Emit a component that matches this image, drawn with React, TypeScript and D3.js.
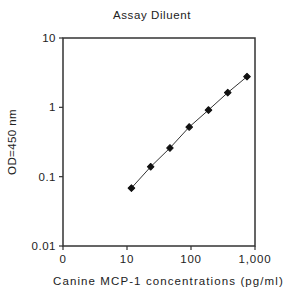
import React from "react";
import * as d3 from "d3";

const concentrations = [11.72, 23.44, 46.88, 93.75, 187.5, 375, 750];
const odValues = [0.0685, 0.139, 0.259, 0.52, 0.914, 1.63, 2.77];
const xTicks = [1, 10, 100, 1000];
const xTickLabels = ["0", "10", "100", "1,000"];
const yTicks = [0.01, 0.1, 1, 10];
const yTickLabels = ["0.01", "0.1", "1", "10"];

export default function App() {
  const W = 286, H = 293;
  const left = 63, right = 255, top = 38, bottom = 246;
  const x = d3.scaleLog().domain([1, 1000]).range([left, right]);
  const y = d3.scaleLog().domain([0.01, 10]).range([bottom, top]);
  const line = d3.line<number>().x((_, i) => x(concentrations[i])).y((d) => y(d));
  const sym = d3.symbol().type(d3.symbolSquare).size(22)();
  const font = "Liberation Sans, Arial, sans-serif";
  return (
    <svg width={W} height={H} style={{ position: "absolute", left: 0, top: 0 }} fontFamily={font}>
      <rect width={W} height={H} fill="#fff" />
      <text x={152} y={19} textAnchor="middle" fontSize={11.5} letterSpacing={0.6} fill="#222">Assay Diluent</text>
      <rect x={left} y={top} width={right - left} height={bottom - top} fill="none" stroke="#333" strokeWidth={1.5} />
      {yTicks.map((t, i) => (
        <g key={"y" + i}>
          <line x1={left - 4} x2={left} y1={y(t)} y2={y(t)} stroke="#333" strokeWidth={1.2} />
          <text x={left - 7} y={y(t) + 4} textAnchor="end" fontSize={11.5} letterSpacing={0.5} fill="#222">{yTickLabels[i]}</text>
        </g>
      ))}
      {xTicks.map((t, i) => (
        <g key={"x" + i}>
          <line x1={x(t)} x2={x(t)} y1={bottom} y2={bottom + 4} stroke="#333" strokeWidth={1.2} />
          <text x={x(t)} y={bottom + 17} textAnchor="middle" fontSize={11.5} letterSpacing={0.8} fill="#222">{xTickLabels[i]}</text>
        </g>
      ))}
      <text transform={`translate(16,${(top + bottom) / 2}) rotate(-90)`} textAnchor="middle" fontSize={11.5} letterSpacing={0.4} fill="#222">OD=450 nm</text>
      <text x={53} y={285} textAnchor="start" fontSize={11.5} letterSpacing={1.1} fill="#222">Canine MCP-1 concentrations (pg/ml)</text>
      <path d={line(odValues) || ""} fill="none" stroke="#333" strokeWidth={1} />
      {odValues.map((v, i) => (
        <path key={"p" + i} d={sym || ""} transform={`translate(${x(concentrations[i])},${y(v)}) rotate(45)`} fill="#111" stroke="#111" strokeWidth={1} strokeLinejoin="round" />
      ))}
    </svg>
  );
}
